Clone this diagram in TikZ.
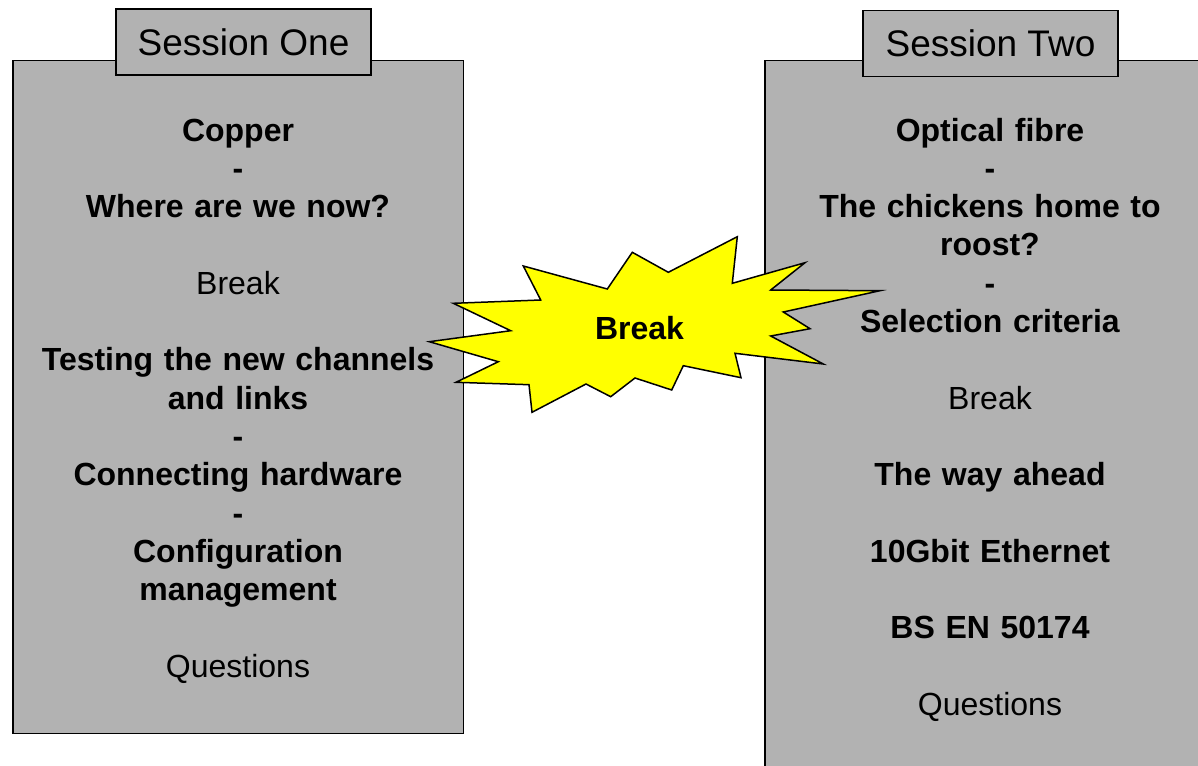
\documentclass[tikz,border=0pt]{standalone}
\usepackage{fontspec}
\setmainfont{Liberation Sans}
\definecolor{panelgrey}{RGB}{178,178,178}
\definecolor{burst}{RGB}{255,255,0}
\begin{document}
\begin{tikzpicture}[x=1pt,y=-1pt,
  panel/.style={draw=black, line width=1.5pt, fill=panelgrey},
  tab/.style={draw=black, line width=1.5pt, fill=panelgrey, inner sep=0pt,
    minimum width=255pt, minimum height=66pt,
    font=\fontsize{37}{44}\selectfont},
  body/.style={align=center, text width=440pt, inner sep=0pt, anchor=base,
    font=\fontsize{32}{38.3}\selectfont},
  burstlabel/.style={font=\fontsize{32}{38}\selectfont\bfseries, inner sep=0pt}]
\useasboundingbox (0,0) rectangle (1198,765);
\begin{scope}
\clip (0,0) rectangle (1198,765);

% session panels
\draw[panel] (13,60.5) rectangle (463.5,733.5);
\draw[panel] (765,60.5) rectangle (1220,790);

% title tabs
\node[tab] (tabone) at (243.5,42) {Session One};
\node[tab] (tabtwo) at (990.5,43.5) {Session Two};

% session contents
\node[body] (contentone) at (238,141) {%
  \textbf{Copper}\\
  \textbf{-}\\
  \textbf{Where are we now?}\\[38.3pt]
  Break\\[38.3pt]
  \textbf{Testing the new channels}\\
  \textbf{and links}\\
  \textbf{-}\\
  \textbf{Connecting hardware}\\
  \textbf{-}\\
  \textbf{Configuration}\\
  \textbf{management}\\[38.3pt]
  Questions};

\node[body] (contenttwo) at (990,141) {%
  \textbf{Optical fibre}\\
  \textbf{-}\\
  \textbf{The chickens home to}\\
  \textbf{roost?}\\
  \textbf{-}\\
  \textbf{Selection criteria}\\[38.3pt]
  Break\\[38.3pt]
  \textbf{The way ahead}\\[38.3pt]
  \textbf{10Gbit Ethernet}\\[38.3pt]
  \textbf{BS EN 50174}\\[38.3pt]
  Questions};

% break burst between the sessions
\draw[line width=1.5pt, fill=burst, line join=miter]
  (523.3,266) -- (607.3,289) -- (632.3,252.3) -- (668.3,272.3)
  -- (737.3,236.7) -- (732.3,283.3) -- (805,262.7) -- (770.7,290)
  -- (880,290.7) -- (783.3,312) -- (810,328.7) -- (770.7,336)
  -- (823.3,364) -- (735,353.3) -- (741,377.7) -- (683.3,365.7)
  -- (671.7,390) -- (635,378) -- (610.7,396.7) -- (586,384)
  -- (532,412.3) -- (529,384.7) -- (456,382.3) -- (498.3,361.7)
  -- (429.3,341.7) -- (510.7,330.7) -- (453.3,303.3) -- (540.7,300)
  -- cycle;
\node[burstlabel] (breaklabel) at (639.5,328.5) {Break};
\end{scope}
\end{tikzpicture}
\end{document}
